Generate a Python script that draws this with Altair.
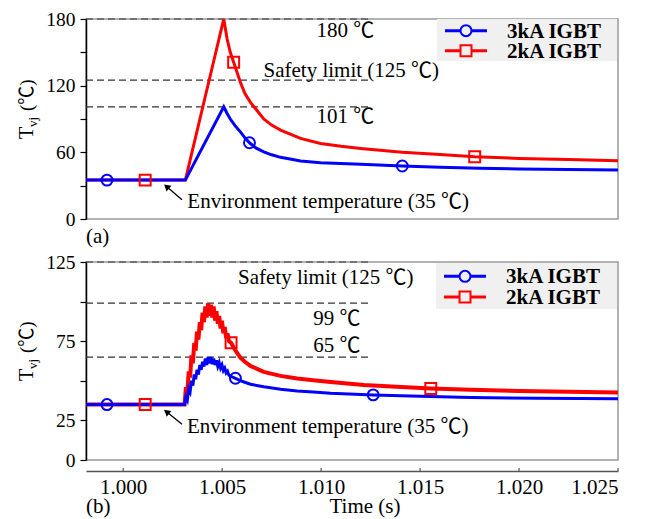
import altair as alt
import pandas as pd

FONT = "Liberation Serif, Noto Sans CJK SC, serif"
BLUE = "#0000ff"
RED = "#ff0000"
X_DOMAIN = [0.99812, 1.025]
W = 532

# ---------------- panel (a) data ----------------
a_t_3ka = [0.99812, 1.00314, 1.00508, 1.00525, 1.00541, 1.00565, 1.00592, 1.00615, 1.00638, 1.0067,
           1.0071, 1.0075, 1.00795, 1.0085, 1.00896, 1.00997, 1.0110, 1.0120, 1.0141, 1.0160,
           1.0180, 1.0200, 1.0225, 1.0250]
a_T_3ka = [35, 35, 101, 95, 90, 84, 78.4, 73, 68.6, 64,
           60.5, 57.8, 55.5, 53.8, 52.2, 50.7, 50, 49.2, 47.7, 46.5,
           45.7, 45, 44.5, 44]
a_t_2ka = [0.99812, 1.00314, 1.00508, 1.00525, 1.00541, 1.00558, 1.00592, 1.00615, 1.00643, 1.0071,
           1.0075, 1.00795, 1.0085, 1.00896, 1.00997, 1.0110, 1.0120, 1.0141, 1.0160, 1.01776,
           1.0200, 1.0225, 1.0250]
a_T_2ka = [35, 35, 180, 162, 150, 141, 123, 113, 105, 90,
           84.5, 80, 76, 72.5, 68, 65.5, 63.5, 60, 58, 56,
           54.5, 53.5, 52.5]
a_mk_t_3ka = [0.99918, 1.00638, 1.0141]
a_mk_T_3ka = [35, 68.6, 47.7]
a_mk_t_2ka = [1.00111, 1.00558, 1.01776]
a_mk_T_2ka = [35, 141, 56]
a_dash_T = [180, 125, 101]
a_dash_t_end = [1.0124, 1.0124, 1.0124]
a_text = ["180 ℃", "Safety limit (125 ℃)", "101 ℃", "Environment temperature (35 ℃)"]
a_text_t = [1.00977, 1.00709, 1.00977, 1.00324]
a_text_T = [169, 133, 92, 15.5]
a_arrow = {"tail_t": 1.00297, "tail_T": 17.3, "head_t": 1.00219, "head_T": 29.2, "angle": 311}
a_yticks = [0, 30, 60, 90, 120, 150, 180]

# ---------------- panel (b) data ----------------
b_t_2ka = [0.99812, 1.0031, 1.00317, 1.00324, 1.00331, 1.00338, 1.00345, 1.00352, 1.00359, 1.00366,
           1.00373, 1.00380, 1.00387, 1.00394, 1.00401, 1.00408, 1.00415, 1.00422, 1.00429, 1.00436,
           1.00443, 1.00450, 1.00457, 1.00464, 1.00471, 1.00478, 1.00485, 1.00492, 1.00499, 1.00506,
           1.00513, 1.00520, 1.00527, 1.00534, 1.00545, 1.00565, 1.00592, 1.00615, 1.00643, 1.0071,
           1.00795, 1.00879, 1.0096, 1.01048, 1.01216, 1.0138, 1.01554, 1.01756, 1.0200, 1.0225,
           1.0250]
b_T_2ka = [35, 35, 46, 43, 56, 52, 66, 61, 74, 69,
           81, 76, 87, 82, 93, 87, 97, 90, 99, 91,
           98, 90, 97, 88, 94, 86, 91, 83, 88, 80,
           84, 77, 80, 75, 74, 69.5, 64.6, 62, 59.4, 55.6,
           53.1, 51.4, 50.3, 49.3, 47.4, 46.2, 45.1, 44.3, 43.6, 43.1,
           42.6]
b_t_3ka = [0.99812, 1.0031, 1.00317, 1.00324, 1.00331, 1.00338, 1.00345, 1.00352, 1.00359, 1.00366,
           1.00373, 1.00380, 1.00387, 1.00394, 1.00401, 1.00408, 1.00415, 1.00422, 1.00429, 1.00436,
           1.00443, 1.00450, 1.00457, 1.00464, 1.00471, 1.00478, 1.00485, 1.00492, 1.00499, 1.00506,
           1.00513, 1.00520, 1.00527, 1.00534, 1.00550, 1.00567, 1.00600, 1.00643, 1.0071, 1.00795,
           1.00879, 1.0096, 1.01048, 1.01263, 1.0150, 1.01756, 1.0210, 1.0250]
b_T_3ka = [35, 35, 40, 38, 45, 43, 50, 47, 54, 51,
           57, 54, 60, 57, 62, 59, 64, 60, 65, 61,
           65, 60.5, 64, 60, 63, 59, 61.5, 58, 60, 56.5,
           58, 55, 56, 53.5, 52.5, 51.6, 49.7, 47.8, 46.2, 44.7,
           43.6, 42.9, 42.2, 41.1, 40.2, 39.4, 39, 38.6]
b_mk_t_3ka = [0.99918, 1.00567, 1.01263]
b_mk_T_3ka = [35, 51.6, 41.1]
b_mk_t_2ka = [1.00111, 1.00545, 1.01554]
b_mk_T_2ka = [35, 74, 45.1]
b_dash_T = [125, 99, 65]
b_dash_t_end = [1.0124, 1.0124, 1.0124]
b_text = ["Safety limit (125 ℃)", "99 ℃", "65 ℃", "Environment temperature (35 ℃)"]
b_text_t = [1.0058, 1.0096, 1.0096, 1.00322]
b_text_T = [114.6, 89, 71.8, 20.9]
b_arrow = {"tail_t": 1.00297, "tail_T": 22.6, "head_t": 1.00219, "head_T": 30.4, "angle": 309}
b_yticks = [0, 25, 50, 75, 100, 125]
x_ticks = [1.000, 1.005, 1.010, 1.015, 1.020, 1.025]

legend_labels = ["3kA IGBT", "2kA IGBT"]
legend_colors = [BLUE, RED]
legend_shapes = ["circle", "square"]


def panel(height, ymax, yticks, label_expr, t3, T3, t2, T2, m3t, m3T, m2t, m2T,
          dash_T, dash_end, texts, text_t, text_T, arrow, legend_rows, legend_box,
          tag, tag_y, bottom_axis, red_width):
    xs = alt.Scale(domain=X_DOMAIN, nice=False, zero=False)
    ys = alt.Scale(domain=[0, ymax], nice=False, zero=True)
    if bottom_axis:
        xax = alt.Axis(values=x_ticks, format=".3f", offset=11, tickSize=0, labelPadding=5,
                       domainColor="#555555", domainWidth=1.5, labelFont=FONT,
                       labelFontSize=21, labelColor="black", title=None, grid=False)
    else:
        xax = None
    yax = alt.Axis(values=yticks, labelExpr=label_expr, tickSize=6, tickColor="black",
                   tickWidth=1.2, domainColor="black", domainWidth=1.5, labelPadding=5,
                   labelFont=FONT, labelFontSize=19.5, labelColor="black", title=None, grid=False)
    X = alt.X("t:Q", scale=xs, axis=xax)
    Y = alt.Y("T:Q", scale=ys, axis=yax)

    dash_df = pd.DataFrame({"t": [X_DOMAIN[0]] * len(dash_T), "t2": dash_end, "T": dash_T})
    dashes = alt.Chart(dash_df).mark_rule(color="#333333", strokeWidth=1.2, strokeDash=[7, 4]).encode(
        x=X, x2="t2:Q", y=Y)

    red = alt.Chart(pd.DataFrame({"t": t2, "T": T2})).mark_line(
        color=RED, strokeWidth=red_width, clip=True).encode(x=X, y=Y)
    blue = alt.Chart(pd.DataFrame({"t": t3, "T": T3})).mark_line(
        color=BLUE, strokeWidth=3, clip=True).encode(x=X, y=Y)
    red_mk = alt.Chart(pd.DataFrame({"t": m2t, "T": m2T})).mark_point(
        shape="square", size=120, filled=False, color=RED, strokeWidth=2, opacity=1).encode(x=X, y=Y)
    blue_mk = alt.Chart(pd.DataFrame({"t": m3t, "T": m3T})).mark_point(
        shape="circle", size=120, filled=False, color=BLUE, strokeWidth=2, opacity=1).encode(x=X, y=Y)

    txt = alt.Chart(pd.DataFrame({"t": text_t, "T": text_T, "label": texts})).mark_text(
        align="left", baseline="middle", font=FONT, fontSize=21, color="black").encode(
        x=X, y=Y, text="label:N")

    arr_df = pd.DataFrame({"t": [arrow["tail_t"]], "t2": [arrow["head_t"]],
                           "T": [arrow["tail_T"]], "T2": [arrow["head_T"]]})
    arr_line = alt.Chart(arr_df).mark_rule(color="black", strokeWidth=1.3).encode(
        x=X, x2="t2:Q", y=Y, y2="T2:Q")
    head_df = pd.DataFrame({"t": [arrow["head_t"]], "T": [arrow["head_T"]]})
    arr_head = alt.Chart(head_df).mark_point(
        shape="triangle-up", filled=True, size=55, color="black", opacity=1,
        angle=arrow["angle"]).encode(x=X, y=Y)

    layers = [dashes, red, blue, red_mk, blue_mk, txt, arr_line, arr_head]

    # legend (drawn inside the plot area)
    bx0, bx1, by0, by1 = legend_box
    layers.append(alt.Chart(pd.DataFrame({"a": [0]})).mark_rect(color="#f0f0f0").encode(
        x=alt.value(bx0), x2=alt.value(bx1), y=alt.value(by0), y2=alt.value(by1)))
    for lab, col, shp, ry in zip(legend_labels, legend_colors, legend_shapes, legend_rows):
        base = alt.Chart(pd.DataFrame({"a": [0]}))
        layers.append(base.mark_rule(color=col, strokeWidth=3).encode(
            x=alt.value(bx0 + 8), x2=alt.value(bx0 + 50), y=alt.value(ry)))
        layers.append(base.mark_point(shape=shp, size=120, filled=True, fill="#f0f0f0",
                                      stroke=col, strokeWidth=2, opacity=1).encode(
            x=alt.value(bx0 + 29), y=alt.value(ry)))
        layers.append(base.mark_text(text=lab, align="left", baseline="middle", font=FONT,
                                     fontSize=21, fontWeight="bold", color="black").encode(
            x=alt.value(bx0 + 70), y=alt.value(ry + 1)))

    # y-axis title: T with subscript vj
    base = alt.Chart(pd.DataFrame({"a": [0]}))
    cy = height / 2
    layers.append(base.mark_text(text="T", angle=270, align="left", baseline="alphabetic",
                                 font=FONT, fontSize=20, color="black").encode(
        x=alt.value(-53), y=alt.value(cy + 20)))
    layers.append(base.mark_text(text="vj", angle=270, align="left", baseline="alphabetic",
                                 font=FONT, fontSize=13, color="black").encode(
        x=alt.value(-49), y=alt.value(cy + 8)))
    layers.append(base.mark_text(text="(℃)", angle=270, align="left", baseline="alphabetic",
                                 font=FONT, fontSize=19, color="black").encode(
        x=alt.value(-53), y=alt.value(cy - 8)))
    layers.append(base.mark_text(text=tag, align="left", baseline="middle",
                                 font=FONT, fontSize=21, color="black").encode(
        x=alt.value(0), y=alt.value(tag_y)))
    if bottom_axis:
        tick_df = pd.DataFrame({"t": x_ticks})
        layers.append(alt.Chart(tick_df).mark_rule(color="#555555", strokeWidth=1.2).encode(
            x=X, y=alt.value(height + 8), y2=alt.value(height + 11)))
        layers.append(base.mark_text(text="Time (s)", align="center", baseline="middle",
                                     font=FONT, fontSize=21, color="black").encode(
            x=alt.value(279), y=alt.value(tag_y)))

    return alt.layer(*layers).properties(width=W, height=height)


top = panel(200, 180, a_yticks, "datum.value % 60 == 0 ? datum.label : ''",
            a_t_3ka, a_T_3ka, a_t_2ka, a_T_2ka, a_mk_t_3ka, a_mk_T_3ka, a_mk_t_2ka, a_mk_T_2ka,
            a_dash_T, a_dash_t_end, a_text, a_text_t, a_text_T, a_arrow,
            [11.7, 31.7], (351, 531, 0, 42), "(a)", 218, False, 3)
bottom = panel(198, 125, b_yticks, "(datum.value == 50 || datum.value == 100) ? '' : datum.label",
               b_t_3ka, b_T_3ka, b_t_2ka, b_T_2ka, b_mk_t_3ka, b_mk_T_3ka, b_mk_t_2ka, b_mk_T_2ka,
               b_dash_T, b_dash_t_end, b_text, b_text_t, b_text_T, b_arrow,
               [14.3, 35], (350, 531, 1, 47), "(b)", 245, True, 4)

chart = alt.vconcat(top, bottom, spacing=43, bounds="flush").configure_view(
    stroke="#999999", strokeWidth=1.5).properties(
    padding={"left": 8, "top": 0, "right": 5, "bottom": 0})

chart.save("out.html", embed_options={"renderer": "svg", "actions": False})
